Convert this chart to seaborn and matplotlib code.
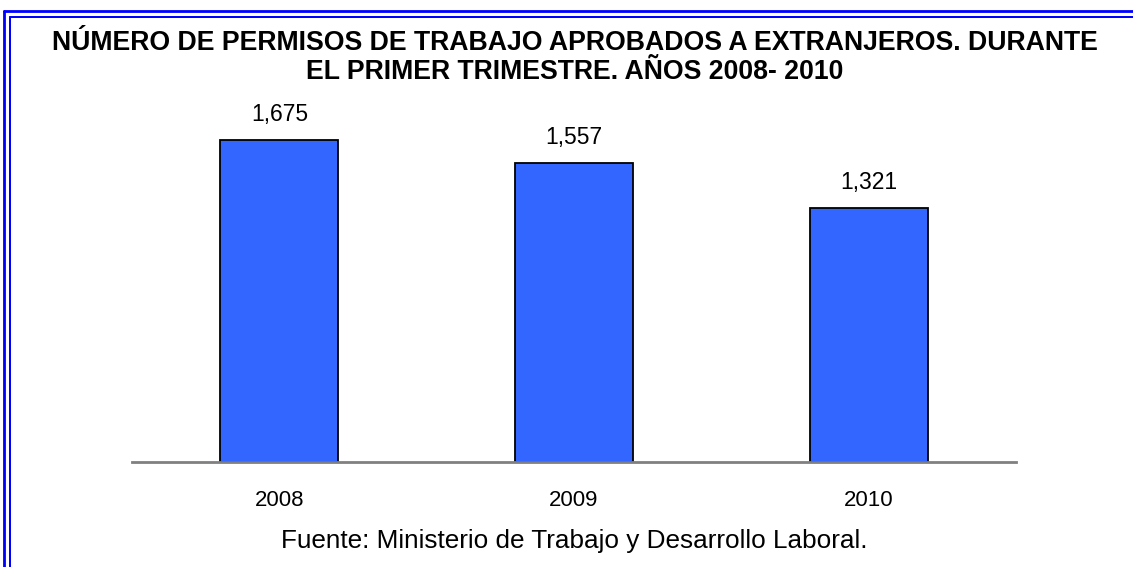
import matplotlib
matplotlib.use("Agg")
import matplotlib.pyplot as plt
import seaborn as sns
import pandas as pd
from matplotlib.lines import Line2D

# ── Data ─────────────────────────────────────────────────────────────────────
years = ["2008", "2009", "2010"]
permisos = [1675, 1557, 1321]

TITLE = ("NÚMERO DE PERMISOS DE TRABAJO APROBADOS A EXTRANJEROS. DURANTE\n"
         "EL PRIMER TRIMESTRE. AÑOS 2008- 2010")
SOURCE = "Fuente: Ministerio de Trabajo y Desarrollo Laboral."

df = pd.DataFrame({"year": years, "permisos": permisos})

# ── Style ────────────────────────────────────────────────────────────────────
sns.set_style("white")
plt.rcParams["font.family"] = ["Liberation Sans", "DejaVu Sans"]
plt.rcParams["text.color"] = "black"
plt.rcParams["xtick.color"] = "black"
plt.rcParams["xtick.labelcolor"] = "black"

W, H = 1133, 567
fig = plt.figure(figsize=(W / 100, H / 100), dpi=100)
ax = fig.add_axes([132 / W, 1 - 462 / H, 884 / W, 346 / H])

sns.barplot(data=df, x="year", y="permisos", color="#3366FF",
            edgecolor="black", linewidth=1.3, width=0.4, saturation=1, ax=ax)

ax.set_ylim(0, 1800)
ax.set_xlim(-0.5, 2.5)
for c in ax.containers:
    ax.bar_label(c, labels=[f"{v:,.0f}" for v in permisos], padding=10,
                 fontsize=16.5, color="black")

for s in ["top", "right", "left"]:
    ax.spines[s].set_visible(False)
ax.spines["bottom"].set_color("#808080")
ax.spines["bottom"].set_linewidth(2)
ax.set_yticks([])
ax.set_xlabel("")
ax.set_ylabel("")
ax.tick_params(axis="x", length=0, labelsize=16, pad=20)

# ── Title and source ─────────────────────────────────────────────────────────
fig.text(575 / W, 1 - 57.5 / H, TITLE, ha="center", va="center",
         fontsize=19.2, fontweight="bold", linespacing=1.12)
fig.text(574 / W, 1 - 541 / H, SOURCE, ha="center", va="center", fontsize=18.8)

# ── Double blue frame ────────────────────────────────────────────────────────
def px(x, y):
    return x / W, 1 - y / H

for off, lw in [(4.2, 2.8), (10, 2)]:
    x0, y0 = px(off, off + 6.5)
    fig.add_artist(Line2D([x0, x0], [y0, -0.01], color="blue", lw=lw * 0.72))
    fig.add_artist(Line2D([x0, 1.01], [y0, y0], color="blue", lw=lw * 0.72))

fig.savefig("out.png", dpi=100)
